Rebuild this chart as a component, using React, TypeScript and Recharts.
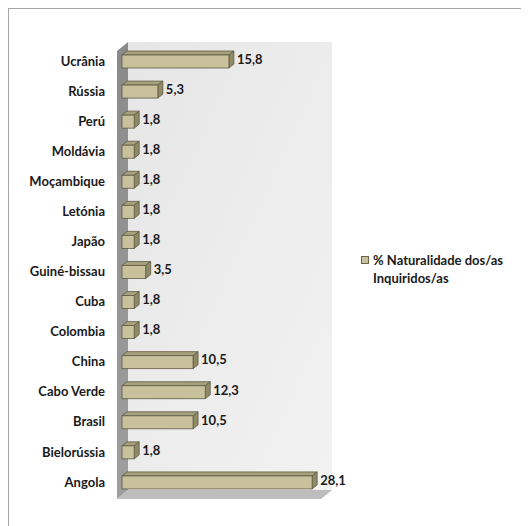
import React from "react";
import { BarChart, Bar, XAxis, YAxis, LabelList, ReferenceArea } from "recharts";

const categories = [
  "Ucrânia", "Rússia", "Perú", "Moldávia", "Moçambique", "Letónia", "Japão",
  "Guiné-bissau", "Cuba", "Colombia", "China", "Cabo Verde", "Brasil", "Bielorússia", "Angola",
];
const values = [15.8, 5.3, 1.8, 1.8, 1.8, 1.8, 1.8, 3.5, 1.8, 1.8, 10.5, 12.3, 10.5, 1.8, 28.1];
const seriesName = "% Naturalidade dos/as Inquiridos/as";
const legendLines = ["% Naturalidade dos/as", "Inquiridos/as"];

const data = categories.map((c, i) => ({ name: c, value: values[i] }));

const FONT = "Lato, 'Open Sans', sans-serif";
const DX = 5;
const DY = 4;

const Bar3D = (props: any) => {
  const { x, y, width, height } = props;
  if (width == null || height == null) return null;
  const w = Math.max(width, 0);
  return (
    <g>
      <polygon
        points={`${x},${y} ${x + DX},${y - DY} ${x + w + DX},${y - DY} ${x + w},${y}`}
        fill="#a7a07c"
        stroke="#5f5b42"
        strokeWidth={0.8}
      />
      <polygon
        points={`${x + w},${y} ${x + w + DX},${y - DY} ${x + w + DX},${y + height - DY} ${x + w},${y + height}`}
        fill="#8f8a66"
        stroke="#5f5b42"
        strokeWidth={0.8}
      />
      <rect x={x} y={y} width={w} height={height} fill="#c9c09c" stroke="#5f5b42" strokeWidth={0.8} />
    </g>
  );
};

const Walls = (props: any) => {
  const { x, y, width, height } = props;
  const px = x, py = y, pw = width, ph = height;
  return (
    <g>
      <defs>
        <linearGradient id="backWall" x1="0" y1="0" x2="1" y2="1">
          <stop offset="0%" stopColor="#e6e6e6" />
          <stop offset="100%" stopColor="#f2f2f2" />
        </linearGradient>
        <linearGradient id="leftWall" x1="0" y1="0" x2="0" y2="1">
          <stop offset="0%" stopColor="#8a8a8a" />
          <stop offset="100%" stopColor="#9e9e9e" />
        </linearGradient>
      </defs>
      <rect x={px + 6} y={py - 4} width={pw + 1} height={ph - 3} fill="url(#backWall)" />
      <polygon
        points={`${px - 5},${py + 5} ${px + 6},${py - 4} ${px + 6},${py + ph - 7} ${px - 5},${py + ph + 2}`}
        fill="url(#leftWall)"
      />
      <polygon
        points={`${px - 5},${py + ph + 2} ${px + 6},${py + ph - 7} ${px + pw + 7},${py + ph - 7} ${px + pw - 4},${py + ph + 2}`}
        fill="#bdbdbd"
      />
    </g>
  );
};

const ValueLabel = (props: any) => {
  const { x, y, width, height, value } = props;
  return (
    <text
      x={x + width + DX + 3}
      y={y + height / 2 - 1}
      dominantBaseline="middle"
      fontFamily={FONT}
      fontWeight={700}
      fontSize={13}
      fill="#1a1a1a"
    >
      {String(value).replace(".", ",")}
    </text>
  );
};

export default function App() {
  return (
    <div style={{ position: "relative", width: 540, height: 540, border: "1px solid #a6a6a6", background: "#fff" }}>
      <BarChart
        width={540}
        height={540}
        data={data}
        layout="vertical"
        margin={{ top: 37, right: 224, bottom: 52, left: 0 }}
        barSize={13}
      >
        <XAxis type="number" domain={[0, 30]} hide />
        <YAxis
          type="category"
          dataKey="name"
          width={113}
          axisLine={false}
          tickLine={false}
          tickSize={0}
          tickMargin={17}
          interval={0}
          tick={{ fontFamily: FONT, fontWeight: 700, fontSize: 13, fill: "#1a1a1a" }}
        />
        <ReferenceArea x1={0} x2={30} shape={<Walls />} ifOverflow="visible" />
        <Bar dataKey="value" name={seriesName} shape={<Bar3D />} isAnimationActive={false}>
          <LabelList dataKey="value" content={<ValueLabel />} />
        </Bar>
      </BarChart>
      <div
        style={{
          position: "absolute",
          left: 352,
          top: 242,
          fontFamily: FONT,
          fontWeight: 700,
          fontSize: 13,
          color: "#1a1a1a",
          lineHeight: "18px",
        }}
      >
        <div style={{ position: "relative", paddingLeft: 12 }}>
          <span
            style={{
              position: "absolute",
              left: 0,
              top: 5,
              width: 6,
              height: 6,
              background: "#c9c09c",
              border: "1px solid #6b6648",
            }}
          />
          {legendLines[0]}
        </div>
        <div style={{ paddingLeft: 12 }}>{legendLines[1]}</div>
      </div>
    </div>
  );
}
